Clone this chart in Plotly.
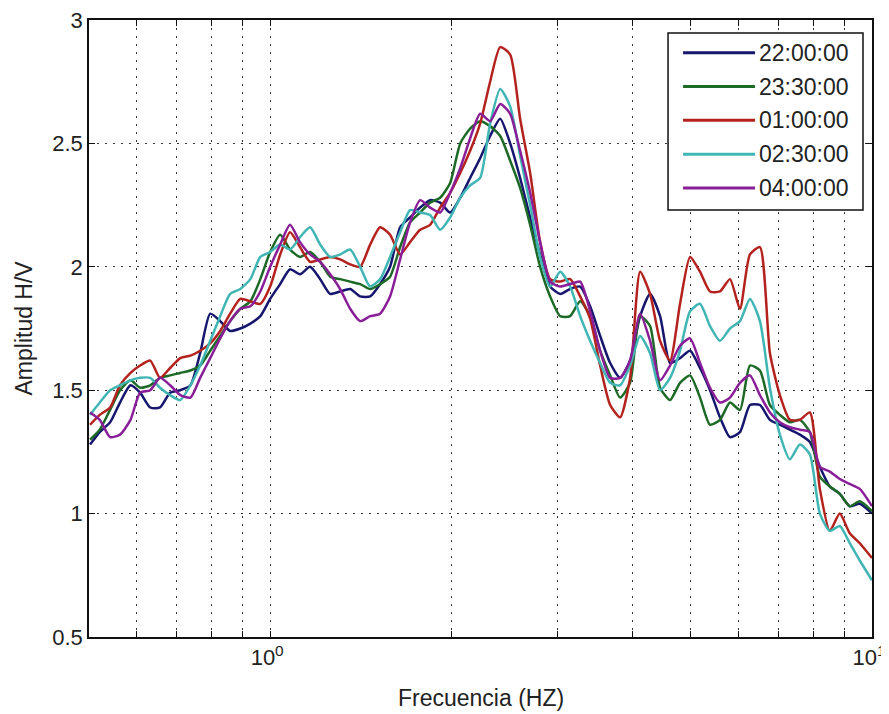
import plotly.graph_objects as go

# frequency grid (Hz)
freq = [0.502, 0.521, 0.542, 0.563, 0.586, 0.608, 0.632, 0.656, 0.682, 0.709,
        0.737, 0.765, 0.795, 0.826, 0.858, 0.892, 0.927, 0.963, 1.000, 1.039,
        1.079, 1.121, 1.165, 1.211, 1.258, 1.307, 1.358, 1.411, 1.466, 1.523,
        1.582, 1.644, 1.708, 1.775, 1.844, 1.916, 1.991, 2.069, 2.149, 2.233,
        2.320, 2.411, 2.505, 2.602, 2.704, 2.809, 2.919, 3.033, 3.151, 3.274,
        3.401, 3.534, 3.672, 3.815, 3.963, 4.118, 4.278, 4.445, 4.618, 4.798,
        4.985, 5.179, 5.381, 5.590, 5.808, 6.034, 6.269, 6.513, 6.767, 7.030,
        7.304, 7.588, 7.884, 8.191, 8.510, 8.841, 9.185, 9.543, 10.00]

hv_2200 = [1.28, 1.33, 1.37, 1.45, 1.52, 1.49, 1.43, 1.43, 1.49, 1.50,
           1.52, 1.65, 1.81, 1.78, 1.74, 1.75, 1.77, 1.80, 1.87, 1.93,
           1.99, 1.97, 2.00, 1.95, 1.89, 1.90, 1.91, 1.88, 1.88, 1.93,
           2.00, 2.16, 2.20, 2.24, 2.27, 2.26, 2.22, 2.28, 2.36, 2.44,
           2.53, 2.60, 2.50, 2.36, 2.20, 2.05, 1.92, 1.89, 1.91, 1.92,
           1.84, 1.72, 1.61, 1.55, 1.62, 1.80, 1.89, 1.80, 1.61, 1.63,
           1.66, 1.59, 1.50, 1.39, 1.31, 1.33, 1.44, 1.44, 1.38, 1.36,
           1.34, 1.32, 1.29, 1.19, 1.11, 1.08, 1.03, 1.04, 1.00]

hv_2330 = [1.30, 1.34, 1.42, 1.50, 1.54, 1.51, 1.52, 1.55, 1.56, 1.57,
           1.58, 1.60, 1.66, 1.72, 1.78, 1.83, 1.86, 1.95, 2.06, 2.13,
           2.07, 2.04, 2.06, 2.02, 1.96, 1.95, 1.94, 1.93, 1.91, 1.93,
           1.96, 2.08, 2.18, 2.22, 2.26, 2.28, 2.34, 2.50, 2.56, 2.59,
           2.57, 2.53, 2.43, 2.32, 2.17, 2.00, 1.88, 1.80, 1.80, 1.86,
           1.80, 1.66, 1.56, 1.47, 1.53, 1.80, 1.76, 1.51, 1.46, 1.53,
           1.56, 1.47, 1.36, 1.38, 1.45, 1.42, 1.60, 1.58, 1.44, 1.40,
           1.37, 1.38, 1.33, 1.15, 1.11, 1.08, 1.03, 1.05, 1.01]

hv_0100 = [1.36, 1.40, 1.43, 1.52, 1.57, 1.60, 1.62, 1.55, 1.59, 1.63,
           1.64, 1.66, 1.69, 1.74, 1.81, 1.87, 1.86, 1.85, 1.92, 2.05,
           2.14, 2.08, 2.02, 2.03, 2.04, 2.03, 2.01, 2.00, 2.09, 2.16,
           2.13, 2.05, 2.10, 2.15, 2.17, 2.24, 2.30, 2.38, 2.47, 2.58,
           2.75, 2.89, 2.86, 2.60, 2.38, 2.10, 1.95, 1.94, 1.95, 1.88,
           1.79, 1.60, 1.44, 1.39, 1.55, 1.98, 1.89, 1.70, 1.62, 1.85,
           2.04, 1.98, 1.90, 1.90, 1.95, 1.83, 2.05, 2.08, 1.65, 1.48,
           1.38, 1.38, 1.41, 1.10, 0.93, 1.00, 0.92, 0.88, 0.82]

hv_0230 = [1.40, 1.45, 1.50, 1.52, 1.54, 1.55, 1.55, 1.51, 1.48, 1.46,
           1.52, 1.60, 1.70, 1.80, 1.89, 1.91, 1.95, 2.04, 2.06, 2.09,
           2.07, 2.12, 2.16, 2.09, 2.04, 2.05, 2.07, 2.00, 1.92, 1.95,
           2.04, 2.14, 2.23, 2.22, 2.21, 2.15, 2.20, 2.28, 2.33, 2.36,
           2.58, 2.72, 2.65, 2.45, 2.25, 2.04, 1.92, 1.98, 1.92, 1.80,
           1.70, 1.61, 1.53, 1.52, 1.60, 1.72, 1.65, 1.50, 1.55, 1.66,
           1.82, 1.85, 1.76, 1.70, 1.75, 1.78, 1.87, 1.78, 1.51, 1.32,
           1.22, 1.28, 1.24, 1.00, 0.93, 0.95, 0.88, 0.81, 0.73]

hv_0400 = [1.41, 1.38, 1.31, 1.32, 1.38, 1.49, 1.50, 1.55, 1.52, 1.48,
           1.47, 1.55, 1.63, 1.71, 1.78, 1.83, 1.84, 1.90, 2.00, 2.09,
           2.17, 2.10, 2.05, 2.02, 1.97, 1.91, 1.83, 1.78, 1.80, 1.81,
           1.88, 2.03, 2.18, 2.27, 2.24, 2.22, 2.30, 2.40, 2.52, 2.62,
           2.59, 2.66, 2.62, 2.47, 2.30, 2.10, 1.94, 1.92, 1.93, 1.94,
           1.82, 1.66, 1.55, 1.55, 1.62, 1.81, 1.70, 1.54, 1.60, 1.68,
           1.71, 1.61, 1.51, 1.45, 1.47, 1.53, 1.56, 1.48, 1.41, 1.37,
           1.35, 1.34, 1.33, 1.19, 1.17, 1.14, 1.12, 1.10, 1.03]

series = [
    ("22:00:00", hv_2200, "#16166e"),
    ("23:30:00", hv_2330, "#1c6a26"),
    ("01:00:00", hv_0100, "#b4221e"),
    ("02:30:00", hv_0230, "#40b6b4"),
    ("04:00:00", hv_0400, "#8a1e98"),
]

grid_vals = [0.6, 0.7, 0.8, 0.9, 1, 2, 3, 4, 5, 6, 7, 8, 9, 10]
grid_text = ["10<sup>0</sup>" if v == 1 else "10<sup>1</sup>" if v == 10 else ""
             for v in grid_vals]

FONT = "Liberation Sans, Arial, sans-serif"
TEXT_COLOR = "#222"

fig = go.Figure()
for name, vals, color in series:
    fig.add_trace(
        go.Scatter(
            x=freq,
            y=vals,
            name=name,
            mode="lines",
            showlegend=False,
            line=dict(color=color, width=2.5, shape="spline", smoothing=0.6),
        )
    )

# MATLAB-style legend box drawn by hand (long line samples, boxed)
box_x0, box_x1 = 0.7395, 0.9885
box_y0, box_y1 = 0.692, 0.979
line_x0, line_x1 = 0.7587, 0.8506
row_top, row_step = 0.947, 0.0548

shapes = [
    dict(type="rect", xref="paper", yref="paper",
         x0=box_x0, x1=box_x1, y0=box_y0, y1=box_y1,
         line=dict(color="#111", width=1.5), fillcolor="white", layer="above")
]
annotations = []
for i, (name, _, color) in enumerate(series):
    yy = row_top - i * row_step
    shapes.append(dict(type="line", xref="paper", yref="paper",
                       x0=line_x0, x1=line_x1, y0=yy, y1=yy,
                       line=dict(color=color, width=3), layer="above"))
    annotations.append(dict(text=name, xref="paper", yref="paper",
                            x=line_x1 + 0.003, y=yy, xanchor="left", yanchor="middle",
                            showarrow=False,
                            font=dict(family=FONT, size=23, color=TEXT_COLOR)))

# axis titles
annotations.append(dict(text="Frecuencia (HZ)", xref="paper", yref="paper",
                        x=0.5, y=0, yshift=-61, xanchor="center", yanchor="middle",
                        showarrow=False, font=dict(family=FONT, size=23, color=TEXT_COLOR)))
annotations.append(dict(text="Amplitud H/V", xref="paper", yref="paper",
                        x=0, y=0.5, xshift=-66, xanchor="center", yanchor="middle",
                        textangle=-90, showarrow=False,
                        font=dict(family=FONT, size=23, color=TEXT_COLOR)))

# the page adds an 8px body margin, so the figure is sized to fit the window
fig.update_layout(
    width=881,
    height=706,
    margin=dict(l=81, r=17, t=12, b=77),
    paper_bgcolor="white",
    plot_bgcolor="white",
    font=dict(family=FONT, size=22, color=TEXT_COLOR),
    showlegend=False,
    shapes=shapes,
    annotations=annotations,
)

fig.update_xaxes(
    type="log",
    range=[-0.30103, 1],
    tickvals=grid_vals,
    ticktext=grid_text,
    ticks="inside",
    ticklen=6,
    tickcolor="#111",
    ticklabeloverflow="allow",
    ticklabelshift=-3,
    showline=True,
    linecolor="#111",
    linewidth=1.5,
    mirror="ticks",
    showgrid=True,
    gridcolor="#333",
    griddash="2px,6px",
    gridwidth=1,
    zeroline=False,
    automargin=False,
)

fig.update_yaxes(
    range=[0.5, 3],
    tickvals=[0.5, 1, 1.5, 2, 2.5, 3],
    ticktext=["0.5", "1", "1.5", "2", "2.5", "3"],
    ticks="inside",
    ticklen=6,
    tickcolor="#111",
    ticklabeloverflow="allow",
    showline=True,
    linecolor="#111",
    linewidth=1.5,
    mirror="ticks",
    showgrid=True,
    gridcolor="#333",
    griddash="2px,6px",
    gridwidth=1,
    zeroline=False,
    automargin=False,
)

fig.write_html("out.html")
